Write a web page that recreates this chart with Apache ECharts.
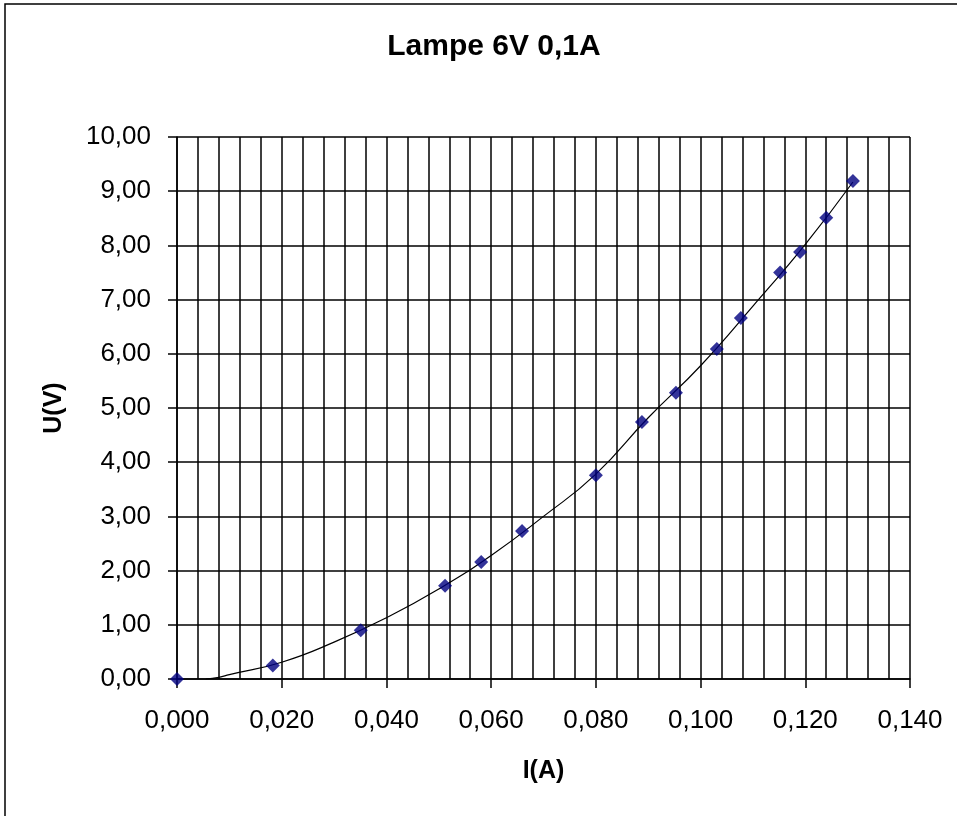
<!DOCTYPE html>
<html>
<head>
<meta charset="utf-8">
<script src="https://cdn.jsdelivr.net/npm/echarts@6/dist/echarts.min.js"></script>
<style>
html,body{margin:0;padding:0;background:#fff;}
#chart{width:957px;height:816px;}
</style>
</head>
<body>
<div id="chart"></div>
<script>
// Measured points: current I (A) and voltage U (V)
const currentI = [0.000, 0.0183, 0.0351, 0.0512, 0.0581, 0.0659, 0.0800, 0.0888, 0.0953, 0.1031, 0.1077, 0.1152, 0.1190, 0.1240, 0.1291];
const voltageU = [0.00, 0.25, 0.90, 1.72, 2.16, 2.73, 3.76, 4.74, 5.28, 6.09, 6.66, 7.50, 7.88, 8.51, 9.19];

// Trendline
const trendI = [0.0055, 0.0080, 0.010, 0.020, 0.030, 0.040, 0.050, 0.060, 0.070, 0.080, 0.090, 0.100, 0.110, 0.120, 0.1291];
const trendU = [0.00, 0.03, 0.08, 0.31, 0.68, 1.13, 1.66, 2.28, 3.00, 3.78, 4.82, 5.78, 6.88, 8.02, 9.17];

const xTicks = {min: 0, max: 0.14, interval: 0.02};
const yTicks = {min: 0, max: 10, interval: 1};

const titleText = 'Lampe 6V 0,1A';
const xName = 'I(A)';
const yName = 'U(V)';

const pts = currentI.map((v, i) => [v, voltageU[i]]);
const trend = trendI.map((v, i) => [v, trendU[i]]);

const chart = echarts.init(document.getElementById('chart'), null, {renderer: 'canvas'});
const font = 'Liberation Sans, Arial, sans-serif';

chart.setOption({
  animation: false,
  backgroundColor: '#fff',
  title: {
    text: titleText,
    left: 489,
    top: 27,
    textAlign: 'center',
    textStyle: {fontFamily: font, fontWeight: 'bold', fontSize: 30, color: '#000'}
  },
  graphic: [{
    type: 'rect',
    shape: {x: 5, y: 4, width: 980, height: 840},
    style: {fill: 'none', stroke: '#000', lineWidth: 1.5},
    silent: true
  }],
  grid: {left: 177, right: 47, top: 137, bottom: 137, containLabel: false, outerBoundsMode: 'none'},
  xAxis: {
    type: 'value',
    min: xTicks.min, max: xTicks.max, interval: xTicks.interval,
    name: xName,
    nameLocation: 'middle',
    nameGap: 80,
    nameTextStyle: {fontFamily: font, fontWeight: 'bold', fontSize: 25, color: '#000'},
    axisLine: {show: true, lineStyle: {color: '#000', width: 1.5}},
    axisTick: {show: true, inside: false, length: 9, lineStyle: {color: '#000', width: 1.5}},
    minorTick: {show: false, splitNumber: 5},
    splitLine: {show: true, lineStyle: {color: '#000', width: 1.5}},
    minorSplitLine: {show: true, lineStyle: {color: '#000', width: 1.5}},
    axisLabel: {
      margin: 29,
      fontFamily: font, fontSize: 26, color: '#000',
      formatter: v => v.toFixed(3).replace('.', ',')
    }
  },
  yAxis: {
    type: 'value',
    min: yTicks.min, max: yTicks.max, interval: yTicks.interval,
    name: yName,
    nameLocation: 'middle',
    nameGap: 110,
    nameRotate: 90,
    nameTextStyle: {fontFamily: font, fontWeight: 'bold', fontSize: 25, color: '#000'},
    axisLine: {show: true, lineStyle: {color: '#000', width: 1.5}},
    axisTick: {show: true, inside: false, length: 9, lineStyle: {color: '#000', width: 1.5}},
    splitLine: {show: true, lineStyle: {color: '#000', width: 1.5}},
    axisLabel: {
      margin: 26,
      fontFamily: font, fontSize: 26, color: '#000',
      formatter: v => v.toFixed(2).replace('.', ',')
    }
  },
  series: [
    {
      type: 'line',
      data: trend,
      smooth: true,
      symbol: 'none',
      lineStyle: {color: '#000', width: 1.2},
      z: 3
    },
    {
      type: 'scatter',
      data: pts,
      symbol: 'diamond',
      symbolSize: 14,
      itemStyle: {color: '#000080'},
      z: 4
    }
  ]
});
</script>
</body>
</html>
